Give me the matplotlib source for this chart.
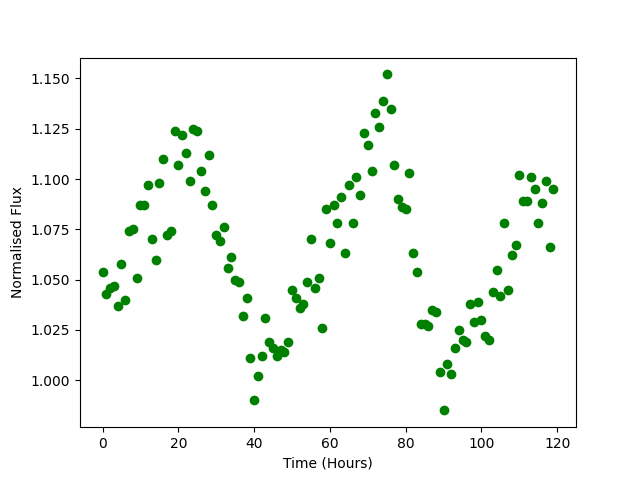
import numpy as np
import matplotlib
matplotlib.use("Agg")
import matplotlib.pyplot as plt

# time in hours, one reading per hour
time_hours = np.arange(120)

flux = [
    1.054, 1.043, 1.046, 1.047, 1.037, 1.058, 1.040, 1.074, 1.075, 1.051,
    1.087, 1.087, 1.097, 1.070, 1.060, 1.098, 1.110, 1.072, 1.074, 1.124,
    1.107, 1.122, 1.113, 1.099, 1.125, 1.124, 1.104, 1.094, 1.112, 1.087,
    1.072, 1.069, 1.076, 1.056, 1.061, 1.050, 1.049, 1.032, 1.041, 1.011,
    0.990, 1.002, 1.012, 1.031, 1.019, 1.016, 1.012, 1.015, 1.014, 1.019,
    1.045, 1.041, 1.036, 1.038, 1.049, 1.070, 1.046, 1.051, 1.026, 1.085,
    1.068, 1.087, 1.078, 1.091, 1.063, 1.097, 1.078, 1.101, 1.092, 1.123,
    1.117, 1.104, 1.133, 1.126, 1.139, 1.152, 1.135, 1.107, 1.090, 1.086,
    1.085, 1.103, 1.063, 1.054, 1.028, 1.028, 1.027, 1.035, 1.034, 1.004,
    0.985, 1.008, 1.003, 1.016, 1.025, 1.020, 1.019, 1.038, 1.029, 1.039,
    1.030, 1.022, 1.020, 1.044, 1.055, 1.042, 1.078, 1.045, 1.062, 1.067,
    1.102, 1.089, 1.089, 1.101, 1.095, 1.078, 1.088, 1.099, 1.066, 1.095,
]

plt.figure(figsize=(6.4, 4.8))
plt.plot(time_hours, flux, 'go')
plt.xlabel('Time (Hours)')
plt.ylabel('Normalised Flux')

plt.savefig("out.png", dpi=100)
